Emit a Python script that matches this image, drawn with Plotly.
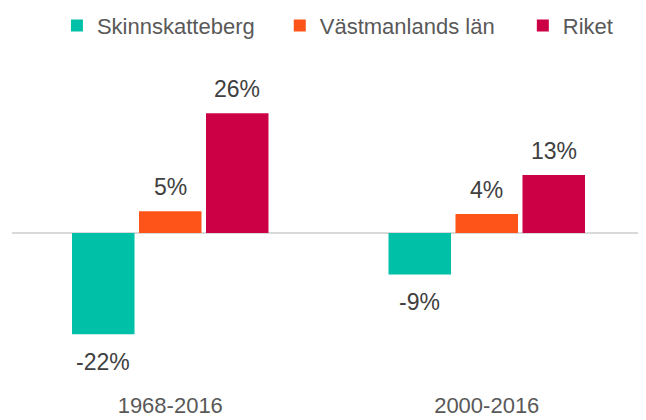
import plotly.graph_objects as go

categories = ["1968-2016", "2000-2016"]
series_names = ["Skinnskatteberg", "Västmanlands län", "Riket"]
skinnskatteberg = [-22.0, -9.0]
vastmanland = [4.7, 4.1]
riket = [26.0, 12.6]
colors = ["#00C0A8", "#FF5419", "#CC0044"]

series_values = [skinnskatteberg, vastmanland, riket]

BARGAP = 0.365
GROUPGAP = 0.067
FONT = "Liberation Sans, Arial, sans-serif"
legend_ids = ["legend", "legend2", "legend3"]
legend_x = [0.071, 0.423, 0.807]

fig = go.Figure()
for name, vals, col, lid in zip(series_names, series_values, colors, legend_ids):
    fig.add_trace(go.Bar(
        x=categories, y=vals, name=name, legend=lid,
        marker=dict(color=col, line=dict(width=0)),
    ))

# data labels
n = len(series_values)
slot = (1 - BARGAP) / n
for j, vals in enumerate(series_values):
    for i, v in enumerate(vals):
        fig.add_annotation(
            x=i + (j - (n - 1) / 2) * slot, y=v, xref="x", yref="y",
            text=f"{v:.0f}%", showarrow=False,
            yanchor="middle", yshift=24 if v >= 0 else -28,
            font=dict(family=FONT, size=23, color="#404040"),
        )

legend_style = dict(orientation="h", xanchor="left", y=1.104, yanchor="middle",
                    font=dict(family=FONT, size=22, color="#595959"),
                    itemclick=False, bgcolor="rgba(0,0,0,0)")

# page body has an 8px default margin, so the figure is sized 8px smaller
fig.update_layout(
    width=638, height=412,
    margin=dict(l=4, r=1, t=52, b=30, autoexpand=False),
    paper_bgcolor="white", plot_bgcolor="white",
    barmode="group", bargap=BARGAP, bargroupgap=GROUPGAP,
    showlegend=True,
    legend=dict(x=legend_x[0], **legend_style),
    legend2=dict(x=legend_x[1], **legend_style),
    legend3=dict(x=legend_x[2], **legend_style),
    font=dict(family=FONT, color="#595959"),
)
fig.update_xaxes(showline=False, showgrid=False, zeroline=False,
                 ticks="", ticklen=0,
                 tickfont=dict(family=FONT, size=22, color="#595959"))
fig.update_yaxes(range=[-34.13, 37.6], showgrid=False, showticklabels=False,
                 zeroline=True, zerolinecolor="#D9D9D9", zerolinewidth=2)

fig.write_html("out.html")
